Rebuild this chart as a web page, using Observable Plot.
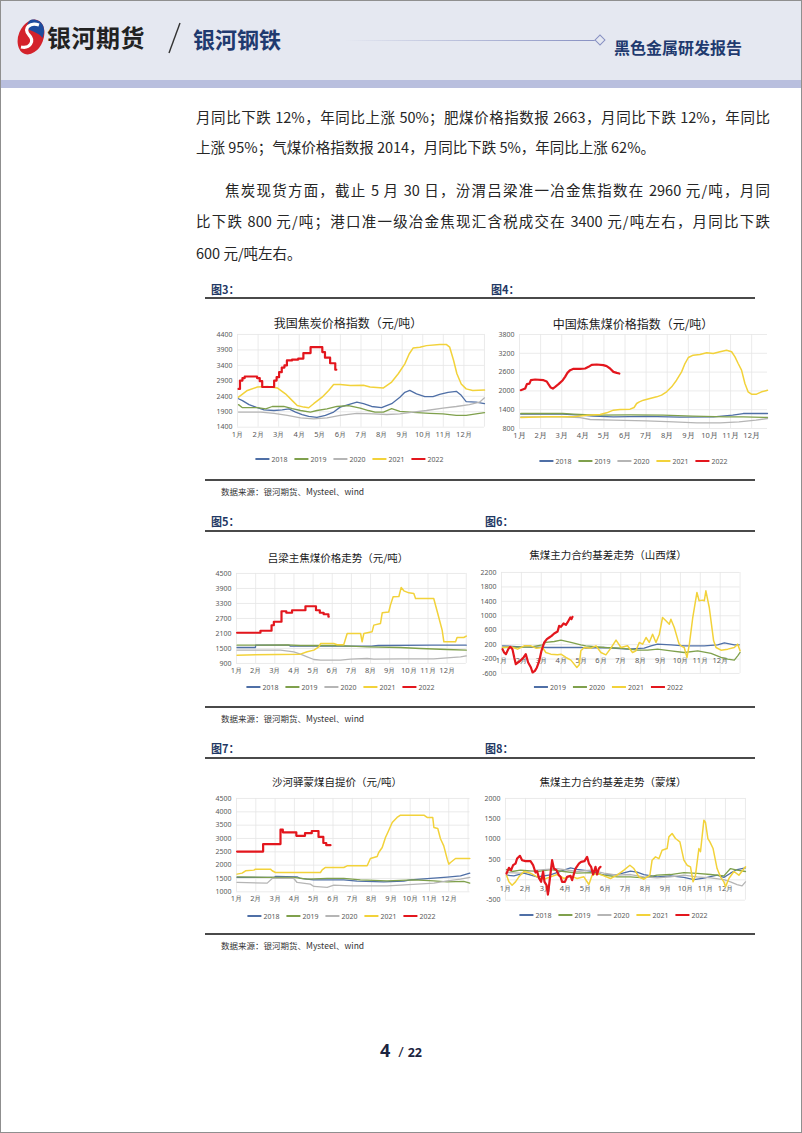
<!DOCTYPE html>
<html><head><meta charset="utf-8">
<script src="https://cdn.jsdelivr.net/npm/d3@7"></script>
<script src="https://cdn.jsdelivr.net/npm/@observablehq/plot@0.6"></script>
<style>
html,body{margin:0;padding:0;background:#fff;}
#page{position:relative;width:802px;height:1133px;overflow:hidden;background:#fff;font-family:"Noto Sans CJK SC","Noto Sans",sans-serif;}
.abs{position:absolute;white-space:nowrap;}
.bodyline{position:absolute;font-size:14.5px;color:#262626;height:22px;line-height:22px;white-space:nowrap;}
.just{text-align:justify;text-align-last:justify;}
.figlab{position:absolute;font-size:11px;font-weight:bold;color:#1f3864;line-height:12px;}
.rule{position:absolute;height:2px;background:#4a4a4a;}
.title{position:absolute;transform:translateX(-50%);color:#1a1a1a;white-space:nowrap;line-height:1;}
.legend{position:absolute;transform:translateX(-50%);display:flex;align-items:center;font-size:7px;color:#595959;font-family:"Noto Sans",sans-serif;white-space:nowrap;}
.legend .sw{display:inline-block;width:14px;margin-right:2px;}
.legend .it{display:flex;align-items:center;margin-right:7px;}
.source{position:absolute;font-size:8.5px;color:#333;line-height:10px;}
</style></head>
<body><div id="page"></div>
<script>
// ---------- data ----------
const monthLabels = ["1月","2月","3月","4月","5月","6月","7月","8月","9月","10月","11月","12月"];
const monthTicks = [1,2,3,4,5,6,7,8,9,10,11,12];
const yearNames = ["2018","2019","2020","2021","2022"];

// 图3 我国焦炭价格指数 [month, value]
const c3_2018 = [[1.05,2320],[1.24,2260],[1.56,2130],[1.89,2050],[2.29,1960],[2.77,1940],[3.17,1960],[3.5,1990],[3.82,1890],[4.14,1810],[4.46,1750],[4.86,1720],[5.27,1780],[5.67,1890],[5.99,2050],[6.39,2130],[6.8,2210],[7.12,2160],[7.52,2070],[8.0,2030],[8.49,2160],[8.89,2370],[9.13,2530],[9.37,2590],[9.7,2480],[10.1,2390],[10.5,2390],[10.82,2460],[11.23,2530],[11.63,2560],[11.87,2430],[12.11,2230],[12.59,2210],[13.0,2160]];
const c3_2019 = [[1.05,2130],[1.24,2030],[1.97,2030],[2.37,1990],[2.69,2070],[3.25,2070],[3.66,2000],[4.06,1940],[4.54,1890],[4.86,1940],[5.35,1990],[5.83,2070],[6.39,2100],[6.96,2020],[7.36,1940],[7.68,1890],[8.09,1890],[8.49,2000],[8.89,1910],[9.53,1880],[10.34,1850],[10.98,1830],[11.63,1780],[12.11,1780],[12.59,1830],[13.0,1870]];
const c3_2020 = [[1.05,1890],[2.13,1890],[2.77,1850],[3.42,1780],[4.06,1700],[4.7,1670],[5.35,1700],[5.99,1780],[6.8,1850],[7.6,1830],[8.25,1810],[8.89,1830],[9.53,1890],[10.18,1940],[10.98,2020],[11.63,2070],[12.27,2130],[12.76,2210],[13.0,2350]];
const c3_2021 = [[1.05,2370],[1.48,2590],[1.97,2700],[2.45,2720],[2.93,2670],[3.33,2480],[3.66,2260],[3.9,2100],[4.22,2050],[4.46,2030],[4.7,2160],[5.11,2370],[5.43,2590],[5.67,2780],[5.99,2780],[6.48,2750],[7.12,2760],[7.44,2700],[8.09,2670],[8.49,2860],[8.81,3130],[9.13,3450],[9.34,3770],[9.53,3960],[9.86,3990],[10.18,4040],[10.82,4080],[11.14,4080],[11.31,3990],[11.5,3560],[11.66,3130],[11.87,2800],[12.11,2640],[12.43,2590],[13.0,2600]];
const c3_2022 = [[1.05,2640],[1.12,2910],[1.24,2990],[1.35,3040],[1.95,2990],[2.08,2890],[2.2,2700],[2.78,2910],[2.9,3020],[3.02,3180],[3.15,3330],[3.28,3400],[3.4,3560],[3.65,3590],[3.95,3620],[4.2,3800],[4.55,3990],[5.12,3830],[5.25,3650],[5.5,3470],[5.75,3260],[5.8,3260]];
const c3_yTicks = [1400,1900,2400,2900,3400,3900,4400];

// 图4 中国炼焦煤价格指数
const c4_2018 = [[1.06,1257],[3.05,1257],[3.87,1225],[4.5,1193],[5.45,1172],[7.0,1190],[8.6,1161],[10.2,1172],[11.1,1225],[11.6,1278],[12.75,1278]];
const c4_2019 = [[1.06,1278],[3.05,1278],[3.56,1257],[4.66,1225],[6.24,1235],[7.8,1225],[9.2,1193],[10.8,1172],[11.6,1172],[12.75,1151]];
const c4_2020 = [[1.06,1172],[3.05,1172],[3.87,1150],[4.35,1087],[5.45,1066],[7.0,1044],[8.3,1012],[9.4,980],[10.5,980],[11.4,1012],[12.2,1066],[12.75,1119]];
const c4_2021 = [[1.06,1151],[2.29,1172],[3.56,1172],[4.19,1225],[4.82,1250],[5.13,1300],[5.45,1385],[5.76,1406],[6.24,1417],[6.43,1470],[6.55,1598],[6.68,1651],[6.87,1704],[7.18,1757],[7.5,1810],[7.73,1864],[7.97,1970],[8.21,2130],[8.44,2342],[8.68,2608],[8.84,2874],[9.0,3066],[9.23,3140],[9.55,3162],[9.87,3215],[10.18,3193],[10.5,3247],[10.81,3300],[11.05,3250],[11.21,3087],[11.36,2874],[11.52,2662],[11.68,2236],[11.83,1970],[11.99,1896],[12.23,1896],[12.47,1970],[12.75,2023]];
const c4_2022 = [[1.06,2023],[1.27,2076],[1.35,2215],[1.47,2230],[1.54,2342],[1.74,2364],[2.14,2342],[2.29,2300],[2.37,2215],[2.48,2108],[2.58,2076],[2.69,2130],[2.85,2215],[3.05,2342],[3.16,2449],[3.27,2576],[3.4,2662],[3.56,2704],[3.87,2704],[4.11,2715],[4.27,2768],[4.42,2832],[4.66,2842],[4.97,2821],[5.13,2789],[5.29,2715],[5.45,2608],[5.61,2576],[5.73,2555]];
const c4_yTicks = [800,1400,2000,2600,3200,3800];

// 图5 吕梁主焦煤价格走势
const c5_2018 = [[1.03,1540],[1.99,1540],[2.0,1634],[3.73,1634],[3.82,1594],[8.05,1594],[8.4,1620],[11.2,1634],[13.0,1634]];
const c5_2019 = [[1.03,1634],[3.65,1645],[4.34,1620],[6.08,1620],[6.95,1594],[7.82,1567],[9.56,1540],[10.6,1500],[12.0,1460],[13.0,1434]];
const c5_2020 = [[1.03,1434],[3.3,1434],[3.99,1367],[4.34,1274],[4.69,1167],[5.04,1060],[5.39,1034],[6.43,1034],[6.95,1074],[7.82,1100],[8.17,1074],[9.56,1087],[11.3,1087],[12.0,1127],[12.7,1167],[13.0,1207]];
const c5_2021 = [[1.03,1234],[4.34,1274],[4.69,1367],[5.04,1434],[5.3,1567],[5.39,1700],[6.08,1700],[6.26,1647],[6.6,1647],[6.78,2100],[7.48,2100],[7.56,1767],[7.65,2100],[8.08,2167],[8.17,2434],[8.52,2500],[8.61,2927],[8.95,2960],[9.04,3234],[9.18,3567],[9.48,3580],[9.6,3940],[9.74,3807],[10.0,3727],[10.26,3700],[10.35,3500],[11.3,3500],[11.51,2900],[11.74,2234],[11.83,1767],[12.44,1767],[12.52,1940],[12.87,1940],[13.0,1994]];
const c5_2022 = [[1.03,2130],[2.25,2210],[2.83,2430],[2.95,2570],[3.35,2990],[3.6,2930],[3.9,3030],[4.6,3190],[5.15,3030],[5.35,2930],[5.55,2870],[5.8,2770],[5.82,2770]];
const c5_yTicks = [900,1500,2100,2700,3300,3900,4500];

// 图6 焦煤主力合约基差走势（山西煤）
const c6_2019 = [[1.05,167],[1.97,139],[3.32,121],[5.0,121],[5.24,102],[6.17,121],[7.34,75],[8.18,102],[8.52,167],[8.85,213],[9.52,195],[10.19,167],[11.2,167],[11.87,195],[12.21,250],[12.71,195],[12.96,195]];
const c6_2020 = [[1.05,121],[2.48,139],[3.06,195],[3.23,260],[3.65,287],[3.99,324],[4.49,260],[4.99,195],[5.24,167],[6.17,121],[7.01,102],[7.85,47],[8.35,47],[8.85,75],[9.52,29],[10.19,-18],[10.87,29],[11.54,-45],[12.04,-156],[12.38,-202],[12.71,-230],[12.88,-110],[13.0,-18]];
const c6_2021 = [[1.05,121],[1.47,139],[1.81,75],[2.14,167],[2.48,167],[2.73,102],[3.06,121],[3.23,-18],[3.48,-64],[3.82,-83],[3.99,-64],[4.24,-156],[4.49,-230],[4.79,-433],[4.91,-359],[4.99,29],[5.16,121],[5.5,102],[5.75,167],[6.0,-18],[6.25,-83],[6.5,102],[6.76,324],[7.01,121],[7.34,167],[7.59,-18],[7.76,29],[7.93,260],[8.1,213],[8.27,398],[8.43,260],[8.6,490],[8.77,260],[8.94,490],[9.1,952],[9.27,860],[9.44,767],[9.52,906],[9.69,675],[9.86,352],[9.94,213],[10.03,167],[10.19,121],[10.33,-156],[10.45,213],[10.62,952],[10.83,1646],[10.94,1415],[11.11,1434],[11.2,1415],[11.28,1692],[11.45,1230],[11.67,306],[11.79,121],[12.04,47],[12.38,75],[12.71,121],[12.88,213],[13.0,29]];
const c6_2022 = [[1.05,75],[1.13,-18],[1.22,-64],[1.34,75],[1.44,139],[1.55,75],[1.64,-156],[1.72,-341],[1.94,-248],[2.11,-156],[2.22,-64],[2.34,-295],[2.48,-433],[2.56,-572],[2.68,-526],[2.78,-433],[2.9,-248],[3.01,29],[3.15,260],[3.28,352],[3.4,398],[3.52,444],[3.65,509],[3.82,564],[3.9,721],[3.99,693],[4.12,786],[4.24,749],[4.32,814],[4.46,952],[4.52,906],[4.57,971]];
const c6_yTicks = [-600,-200,200,600,1000,1400,1800,2200];

// 图7 沙河驿蒙煤自提价
const c7_2018 = [[1.03,1538],[2.93,1538],[3.02,1575],[4.14,1563],[4.31,1500],[4.99,1450],[6.56,1450],[7.25,1400],[8.63,1375],[9.67,1400],[10.01,1450],[11.05,1500],[11.92,1550],[12.61,1600],[13.09,1700]];
const c7_2019 = [[1.03,1563],[2.59,1538],[3.97,1538],[4.66,1475],[5.7,1500],[6.56,1500],[7.42,1450],[8.8,1413],[10.18,1450],[11.23,1413],[11.92,1375],[12.78,1388],[13.09,1325]];
const c7_2020 = [[1.03,1350],[2.59,1325],[2.85,1500],[3.97,1500],[4.14,1350],[4.83,1288],[5.01,1200],[5.7,1163],[6.04,1250],[6.91,1225],[8.8,1225],[9.5,1250],[11.23,1325],[11.92,1413],[12.61,1475],[13.09,1538]];
const c7_2021 = [[1.03,1663],[1.29,1700],[1.47,1788],[1.9,1813],[1.98,1850],[2.76,1850],[2.85,1788],[3.02,1725],[5.35,1725],[5.44,1825],[5.61,1913],[6.56,1913],[6.73,1975],[7.77,1975],[7.94,2250],[8.29,2325],[8.37,2475],[8.55,2663],[8.72,3038],[8.84,3225],[9.07,3600],[9.32,3788],[9.5,3875],[10.71,3875],[10.88,3788],[11.17,3788],[11.23,3413],[11.43,3375],[11.57,2988],[11.74,2725],[11.92,2225],[12.0,2038],[12.09,2100],[12.35,2250],[13.09,2250]];
const c7_2022 = [[1.03,2510],[2.38,2790],[3.28,3330],[3.4,3230],[4.1,3100],[4.55,3200],[4.9,3280],[5.25,3060],[5.5,2830],[5.65,2750],[5.87,2750]];
const c7_yTicks = [1000,1500,2000,2500,3000,3500,4000,4500];

// 图8 焦煤主力合约基差走势（蒙煤）
const c8_2018 = [[1.05,115],[1.42,100],[1.92,164],[2.58,74],[3.25,120],[3.92,238],[4.25,295],[4.58,260],[5.25,213],[5.92,115],[6.58,130],[7.25,213],[7.58,190],[7.92,130],[8.58,74],[9.25,100],[9.92,60],[10.42,8],[10.92,40],[11.58,115],[11.92,60],[12.25,164],[12.58,254],[13.0,295]];
const c8_2019 = [[1.05,254],[1.33,205],[1.75,238],[2.58,205],[3.25,254],[3.92,205],[4.58,164],[5.25,180],[5.92,115],[6.58,74],[7.25,74],[7.92,49],[8.58,115],[9.25,131],[9.92,180],[10.58,160],[11.25,131],[11.92,98],[12.25,278],[12.58,240],[13.0,205]];
const c8_2020 = [[1.05,180],[1.75,164],[2.58,238],[3.58,278],[4.58,205],[5.25,238],[5.92,164],[6.58,115],[7.25,131],[7.92,74],[8.58,49],[9.25,74],[9.92,115],[10.58,74],[11.25,49],[11.92,8],[12.25,-49],[12.58,-115],[12.83,-148],[13.0,-49]];
const c8_2021 = [[1.05,115],[1.17,-49],[1.33,-131],[1.5,-49],[1.67,74],[1.92,205],[2.25,164],[2.58,74],[2.92,16],[3.25,74],[3.58,131],[3.92,33],[4.25,98],[4.58,33],[4.92,74],[5.17,-115],[5.33,115],[5.58,164],[5.83,115],[6.25,33],[6.58,115],[6.92,238],[7.22,360],[7.42,278],[7.67,74],[7.92,16],[8.22,115],[8.33,483],[8.5,565],[8.67,520],[8.83,729],[9.08,770],[9.17,1057],[9.33,1139],[9.5,1016],[9.72,934],[9.92,483],[10.08,360],[10.25,320],[10.38,-49],[10.5,115],[10.67,770],[10.75,690],[10.92,1467],[11.0,1410],[11.12,1016],[11.22,934],[11.38,770],[11.58,278],[11.75,74],[11.92,-49],[12.0,-172],[12.17,33],[12.42,205],[12.67,115],[13.0,320]];
const c8_2022 = [[1.05,155],[1.17,295],[1.28,238],[1.38,360],[1.5,400],[1.58,524],[1.72,590],[1.83,483],[2.0,459],[2.25,459],[2.38,360],[2.5,180],[2.58,213],[2.67,49],[2.78,-49],[2.88,205],[2.95,-49],[3.05,-131],[3.12,-361],[3.22,33],[3.33,483],[3.42,278],[3.55,238],[3.67,115],[3.75,74],[3.83,-49],[3.97,-49],[4.08,74],[4.25,98],[4.33,-8],[4.5,278],[4.67,400],[4.78,442],[4.95,459],[5.08,565],[5.17,400],[5.28,320],[5.38,131],[5.5,320],[5.58,131],[5.67,278],[5.75,320]];
const c8_yTicks = [-500,0,500,1000,1500,2000];

// ---------- styles ----------
const COL = {blue:"#4f6fa6", green:"#7fa04c", gray:"#b5b5b5", yellow:"#f2d23a", red:"#e3161d"};
const page = document.getElementById("page");
function el(tag, cls, style, html){const e=document.createElement(tag); if(cls) e.className=cls; Object.assign(e.style, style||{}); if(html!=null) e.innerHTML=html; page.appendChild(e); return e;}

// ---------- header ----------
el("div",null,{position:"absolute",left:"0",top:"0",width:"802px",height:"80px",background:"#e5e8f1"});
el("div",null,{position:"absolute",left:"0",top:"80px",width:"802px",height:"8px",background:"#b9bfde"});
el("div",null,{position:"absolute",left:"0",top:"0",width:"800px",height:"1131px",border:"1px solid #8f8f8f"});
el("div","abs",{left:"15px",top:"16px"},`<svg width="32" height="42" viewBox="0 0 32 42">
<ellipse cx="16" cy="21" rx="12.5" ry="18" transform="rotate(22 16 21)" fill="#d4222b"/>
<path d="M17 3.5 C27 3 32 12 27.5 22 C24 17 18 15.5 13.5 13.5 C11 9 13 4.5 17 3.5Z" fill="#1e4c9e"/>
<path d="M24 9 C15 6 8 12 14 19 C20 25 15 33 6 31" stroke="#fff" stroke-width="3.2" fill="none"/>
</svg>`);
el("div","abs",{left:"47px",top:"22px",fontSize:"24px",fontWeight:"bold",color:"#222",lineHeight:"30px",letterSpacing:"0.5px"},"银河期货");
el("div","abs",{left:"163px",top:"20px"},`<svg width="22" height="36"><line x1="17" y1="3" x2="6" y2="33" stroke="#333" stroke-width="1.4"/></svg>`);
el("div","abs",{left:"193px",top:"24px",fontSize:"22px",fontWeight:"bold",color:"#1f3a6f",lineHeight:"28px"},"银河钢铁");
el("div",null,{position:"absolute",left:"345px",top:"39.5px",width:"251px",height:"1.5px",background:"linear-gradient(to right, rgba(150,158,205,0), #8790c2)"});
el("div",null,{position:"absolute",left:"596px",top:"36px",width:"6px",height:"6px",border:"1px solid #8790c2",background:"#e5e8f1",transform:"rotate(45deg)"});
el("div","abs",{left:"614px",top:"37px",fontSize:"16px",fontWeight:"bold",color:"#1f3a6f",lineHeight:"20px"},"黑色金属研发报告");

// ---------- body text ----------
el("div","bodyline just",{left:"196px",top:"106px",width:"574px"},"月同比下跌 12%，年同比上涨 50%；肥煤价格指数报 2663，月同比下跌 12%，年同比");
el("div","bodyline",{left:"196px",top:"136px"},"上涨 95%；气煤价格指数报 2014，月同比下跌 5%，年同比上涨 62%。");
el("div","bodyline just",{left:"225px",top:"179px",width:"545px"},"焦炭现货方面，截止 5 月 30 日，汾渭吕梁准一冶金焦指数在 2960 元/吨，月同");
el("div","bodyline just",{left:"196px",top:"210px",width:"574px"},"比下跌 800 元/吨；港口准一级冶金焦现汇含税成交在 3400 元/吨左右，月同比下跌");
el("div","bodyline",{left:"196px",top:"242px"},"600 元/吨左右。");

// ---------- figure frames ----------
[["图3：",211,283],["图4：",491,283],["图5：",211,515],["图6：",485,515],["图7：",211,742],["图8：",485,742]].forEach(([t,x,y])=>el("div","figlab",{left:x+"px",top:y+"px"},t));
[[205,297,550],[205,529.5,550],[205,757,550]].forEach(([x,y,w])=>el("div","rule",{left:x+"px",top:y+"px",width:w+"px"}));
[[205,478.5,550],[205,705.5,550],[205,933,550]].forEach(([x,y,w])=>el("div","rule",{left:x+"px",top:y+"px",width:w+"px"}));
[486,713,940].forEach(y=>el("div","source",{left:"221px",top:y+"px"},"数据来源：银河期货、Mysteel、wind"));

el("div","abs",{left:"0",top:"1037px",width:"802px",textAlign:"center",color:"#1b2440",fontFamily:"'Open Sans','Noto Sans',sans-serif",fontWeight:"bold",lineHeight:"26px"},
  `<span style="font-size:18px">4</span><span style="font-size:15px;font-weight:normal;margin:0 4px"> /</span><span style="font-size:12.5px">22</span>`);

// ---------- charts ----------
function title(text, cx, cy, size){ el("div","title",{left:cx+"px",top:(cy-size*0.55)+"px",fontSize:size+"px"},text); }
function legend(items, cx, cy){
  const d = el("div","legend",{left:cx+"px",top:(cy-5)+"px",height:"10px"});
  d.innerHTML = items.map(([name,color,w])=>`<span class="it"><span class="sw" style="height:${w}px;background:${color}"></span>${name}</span>`).join("");
}
function chart(box, xDomain, yDomain, yTicks, series, zeroMonths){
  const mL=34, mR=4, mT=6, mB= zeroMonths ? 4 : 16;
  const width = box.x1-box.x0+mL+mR, height = box.y1-box.y0+mT+mB;
  const marks = [
    Plot.gridX([...monthTicks,13].filter(v=>v<=xDomain[1]), {stroke:"#e6e6e6", strokeOpacity:1, strokeWidth:0.8}),
    Plot.gridY(yTicks, {stroke:"#e6e6e6", strokeOpacity:1, strokeWidth:0.8}),
  ];
  if (zeroMonths) marks.push(Plot.text(monthTicks, {x:d=>d, y:0, dy:8.5, text:d=>monthLabels[d-1], fontSize:7.5, fill:"#595959"}));
  series.forEach(s=>marks.push(Plot.line(s.data,{x:d=>d[0], y:d=>d[1], stroke:s.color, strokeWidth:s.w, curve:s.curve||"linear", strokeLinejoin:"round"})));
  const svg = Plot.plot({
    width, height, marginLeft:mL, marginRight:mR, marginTop:mT, marginBottom:mB,
    style:{fontFamily:"'Noto Sans',sans-serif", fontSize:"7px", color:"#595959", background:"transparent", overflow:"visible"},
    x:{domain:xDomain, label:null, ticks:monthTicks, tickFormat:d=>monthLabels[d-1], tickSize:0, tickPadding:4, axis: zeroMonths ? null : "bottom"},
    y:{domain:yDomain, label:null, ticks:yTicks, tickFormat:d=>String(d), tickSize:0, tickPadding:5},
    marks
  });
  svg.style.position="absolute"; svg.style.left=(box.x0-mL)+"px"; svg.style.top=(box.y0-mT)+"px";
  svg.querySelectorAll('[aria-label="x-axis tick label"] text, [aria-label="x-axis"] text').forEach(t=>t.setAttribute("font-size","7.5"));
  page.appendChild(svg);
}
const L = (data,color,w,curve)=>({data,color,w,curve});
const legend5 = [[yearNames[0],COL.blue,1.5],[yearNames[1],COL.green,1.5],[yearNames[2],COL.gray,1.5],[yearNames[3],COL.yellow,1.5],[yearNames[4],COL.red,2.5]];

// 图3
title("我国焦炭价格指数（元/吨）", 348, 324, 12);
chart({x0:237,x1:484,y0:334,y1:426.7},[1,13],[1400,4400],c3_yTicks,
  [L(c3_2018,COL.blue,1.3),L(c3_2019,COL.green,1.3),L(c3_2020,COL.gray,1.3),L(c3_2021,COL.yellow,1.5),L(c3_2022,COL.red,2.2,"step-after")]);
legend(legend5, 353, 459);

// 图4
title("中国炼焦煤价格指数（元/吨）", 633, 325, 12);
chart({x0:519.3,x1:767.3,y0:334.3,y1:428.3},[1,12.75],[800,3800],c4_yTicks,
  [L(c4_2018,COL.blue,1.3),L(c4_2019,COL.green,1.3),L(c4_2020,COL.gray,1.3),L(c4_2021,COL.yellow,1.5),L(c4_2022,COL.red,2.2)]);
legend(legend5, 637, 461);

// 图5
title("吕梁主焦煤价格走势（元/吨）", 338, 559, 10.5);
chart({x0:236,x1:465.8,y0:573.3,y1:663.3},[1,13],[900,4500],c5_yTicks,
  [L(c5_2018,COL.blue,1.3),L(c5_2019,COL.green,1.3),L(c5_2020,COL.gray,1.3),L(c5_2021,COL.yellow,1.5),L(c5_2022,COL.red,2.2,"step-after")]);
legend(legend5, 344, 687);

// 图6
title("焦煤主力合约基差走势（山西煤）", 608, 556, 10.5);
chart({x0:500.7,x1:739.3,y0:571.7,y1:672.7},[1,13],[-600,2200],c6_yTicks,
  [L(c6_2019,COL.blue,1.3),L(c6_2020,COL.green,1.3),L(c6_2021,COL.yellow,1.5),L(c6_2022,COL.red,2.2)], true);
legend([[yearNames[1],COL.blue,1.5],[yearNames[2],COL.green,1.5],[yearNames[3],COL.yellow,1.5],[yearNames[4],COL.red,2.5]], 612, 687);

// 图7
title("沙河驿蒙煤自提价（元/吨）", 337, 783, 10.5);
chart({x0:236,x1:469.5,y0:797.7,y1:891},[1,13.1],[1000,4500],c7_yTicks,
  [L(c7_2018,COL.blue,1.3),L(c7_2019,COL.green,1.3),L(c7_2020,COL.gray,1.3),L(c7_2021,COL.yellow,1.5),L(c7_2022,COL.red,2.2,"step-after")]);
legend(legend5, 345, 916);

// 图8
title("焦煤主力合约基差走势（蒙煤）", 613, 783, 10.5);
chart({x0:505,x1:745,y0:798.3,y1:900},[1,13],[-500,2000],c8_yTicks,
  [L(c8_2018,COL.blue,1.3),L(c8_2019,COL.green,1.3),L(c8_2020,COL.gray,1.3),L(c8_2021,COL.yellow,1.5),L(c8_2022,COL.red,2.2)], true);
legend(legend5, 617, 915);
</script></body></html>
